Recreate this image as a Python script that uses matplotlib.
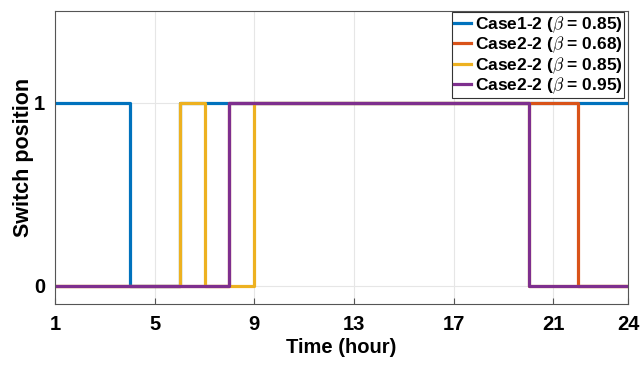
import numpy as np
import matplotlib
matplotlib.use("Agg")
import matplotlib.pyplot as plt

plt.rcParams['font.family'] = ['Liberation Sans', 'DejaVu Sans']
plt.rcParams['mathtext.fontset'] = 'cm'

hours = np.arange(1, 25)
blue = [1, 1, 1, 0, 0] + [1] * 19
orange = [0] * 7 + [1] * 14 + [0] * 3
yellow = [0] * 5 + [1] + [0, 0] + [1] * 11 + [0] * 5
purple = [0] * 7 + [1] * 12 + [0] * 5

labels = [r'Case1-2 ($\beta$ = 0.85)', r'Case2-2 ($\beta$ = 0.68)',
          r'Case2-2 ($\beta$ = 0.85)', r'Case2-2 ($\beta$ = 0.95)']
colors = ['#0072BD', '#D95319', '#EDB120', '#7E2F8E']
xticks = [1, 5, 9, 13, 17, 21, 24]

fig = plt.figure(figsize=(6.43, 3.65), dpi=100)
ax = fig.add_axes([0.0855, 0.167, 0.8915, 0.803])

for y, c, lab in zip([blue, orange, yellow, purple], colors, labels):
    ax.plot(hours, y, drawstyle='steps-post', color=c, lw=2.3, label=lab)

ax.set_xlim(1, 24)
ax.set_ylim(-0.1, 1.5)
ax.set_xticks(xticks)
ax.set_yticks([0, 1])
ax.grid(True, color='#e6e6e6', lw=0.8)
ax.set_axisbelow(True)
ax.tick_params(direction='in', length=4, width=0.8, color='#555555', labelsize=14.5, pad=8)
ax.tick_params(axis='y', pad=7)
for t in ax.get_xticklabels() + ax.get_yticklabels():
    t.set_fontweight('bold')
for s in ax.spines.values():
    s.set_color('#555555')
    s.set_linewidth(0.8)

ax.set_xlabel('Time (hour)', fontsize=14.5, fontweight='bold', labelpad=3)
ax.set_ylabel('Switch position', fontsize=15.5, fontweight='bold', labelpad=0)

leg = ax.legend(loc='upper right', bbox_to_anchor=(0.993, 0.995), prop={'weight': 'bold', 'size': 12.5},
                handlelength=1.0, handletextpad=0.2, borderpad=0.1, labelspacing=0.0,
                borderaxespad=0.0, fancybox=False, framealpha=1)
leg.get_frame().set_edgecolor('#333333')
leg.get_frame().set_linewidth(0.8)

fig.savefig('out.png', dpi=100)
